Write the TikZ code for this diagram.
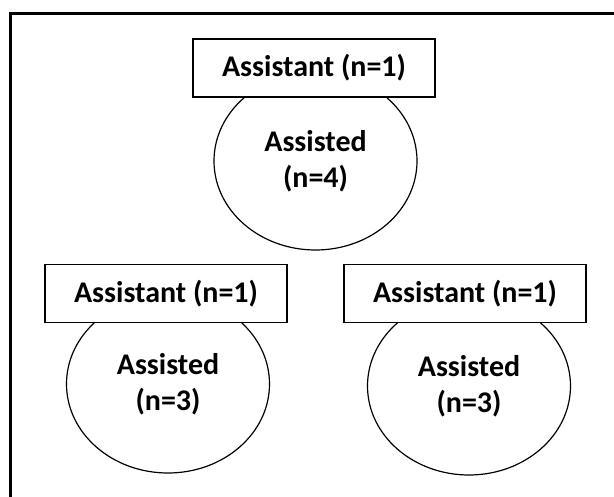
\documentclass[tikz,border=0pt]{standalone}
\usepackage{fontspec}
\setmainfont{Carlito}
\usetikzlibrary{shapes.geometric}
\begin{document}
\begin{tikzpicture}[x=1pt, y=-1pt]
  \useasboundingbox (0, 0) rectangle (614, 497);
  \draw [line width=3pt] (10, 13.5) rectangle (660, 540);  % Rahmen, rechts und unten abgeschnitten.
  \tikzstyle{assisted}=[ellipse, draw, line width=1.2pt, minimum width=203pt, minimum height=178pt, inner sep=0pt, align=center, font=\fontsize{30}{36}\selectfont\bfseries]
  \tikzstyle{assistant}=[rectangle, draw, line width=1.2pt, fill=white, minimum width=242pt, minimum height=58pt, inner sep=0pt, font=\fontsize{30}{36}\selectfont\bfseries]

  \node[assisted] (1) at (315.5, 161) {Assisted\\(n=4)};
  \node[assisted] (3) at (168, 384)   {Assisted\\(n=3)};
  \node[assisted] (5) at (469, 386)   {Assisted\\(n=3)};

  \node[assistant] (2) at (314, 68)    {Assistant (n=1)};
  \node[assistant] (4) at (166, 293.5) {Assistant (n=1)};
  \node[assistant] (6) at (465, 293.5) {Assistant (n=1)};
\end{tikzpicture}
\end{document}
